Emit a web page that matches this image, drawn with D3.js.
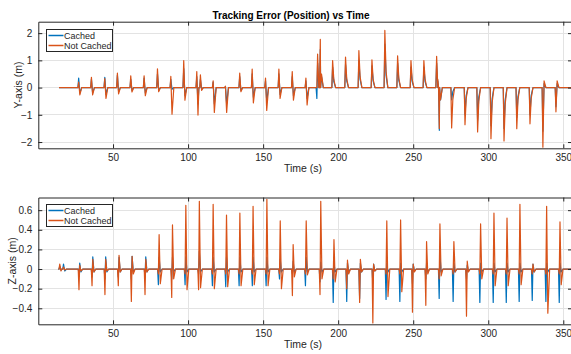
<!DOCTYPE html>
<html><head><meta charset="utf-8">
<script src="https://cdn.jsdelivr.net/npm/d3@7/dist/d3.min.js"></script>
<style>
body{margin:0;background:#fff}
svg{display:block}
text{font-family:"Liberation Sans",Arial,Helvetica,sans-serif}
</style>
</head><body>
<svg id="chart" width="571" height="354"></svg>
<script>
// ---------------- DATA ----------------
const seriesNames = ["Cached", "Not Cached"];
const chartTitle = "Tracking Error (Position) vs Time";
const xLabel = "Time (s)";
const yLabelTop = "Y-axis (m)";
const yLabelBottom = "Z-axis (m)";
const xTicks = [50, 100, 150, 200, 250, 300, 350];
const yTicksTop = [-2, -1, 0, 1, 2];
const yTicksBottom = [-0.4, -0.2, 0, 0.2, 0.4, 0.6];
const timeStart = 14;
const timeEnd = 356;

// Y-axis error: event times (s) and values before / at / after each event (m)
const yEventTime = [27.1,35.6,44.5,52.9,61.8,70.7,79.6,88.5,97.1,105.8,108.2,116.7,124.9,134.4,142.7,151.6,160.5,169.4,178.5,186.3,188.1,196.3,204.9,213.8,222.5,231.1,239.6,248.5,257.1,265.6,267.4,275.6,284.5,292.9,301.8,310.5,319.0,327.8,336.4,345.1];
const yNotCachedPre  = [0,0,0,0,0,0,0,0,0,0,0,0,0,0,0,0,0,0,0,0,0,0,0,0,0,0,0,0,0,0,0,0,0,0,0,0,0,0,0,0];
const yNotCachedPeak = [0.2,0.38,0.33,0.53,0.43,0.43,0.69,0.41,0.99,0.59,0.47,0.25,0.05,0.53,0.68,0.35,0.68,0.59,0.35,1.23,1.77,0.99,1.12,1.36,1.02,2.1,1.17,0.99,0.99,1.15,-1.5,-1.48,-1.36,-1.63,-1.88,-1.96,-1.51,-1.33,-2.19,-0.89];
const yNotCachedPost = [-0.27,-0.27,-0.4,-0.23,-0.16,-0.3,-0.15,-0.98,-0.46,-1.01,-0.1,-0.91,-0.91,-0.15,-0.56,-0.84,-0.4,-0.46,-0.64,0.35,0.5,0.3,0.33,0.4,0.3,0.6,0.35,0.3,0.3,0.3,-0.45,-0.44,-0.4,-0.5,-0.55,-0.6,-0.45,-0.4,0.25,0.25];
const yCachedPre  = [0,0,0,0,0,0,0,0,0,0,0,0,0,0,0,0,0,0,0,-0.4,0,0,0,0,0,0,0,0,0,0,0,0,0,0,0,0,0,0,0,0];
const yCachedPeak = [0.35,0.3,0.38,0.45,0.3,0.35,0.5,0.3,0.7,0.4,0.3,0.2,0.04,0.4,0.5,0.25,0.5,0.4,0.25,0.9,1.4,0.75,0.85,1.0,0.8,1.6,0.9,0.75,0.75,0.9,-1.57,-0.45,-1.0,-1.2,-1.4,-1.5,-1.1,-1.0,-1.6,-0.7];
const yCachedPost = [-0.2,-0.2,-0.25,-0.15,-0.1,-0.2,-0.1,-0.06,-0.3,-0.6,-0.05,-0.6,-0.6,-0.1,-0.35,-0.5,-0.25,-0.3,-0.4,0.25,0.4,0.22,0.25,0.3,0.24,0.45,0.27,0.22,0.22,0.25,-0.45,-0.15,-0.3,-0.35,-0.4,-0.45,-0.33,-0.3,0.15,0.15];

// Z-axis error: event times (s) and values before / at / after each event (m)
const zEventTime = [14.5,17.0,27.8,36.5,45.1,54.0,62.7,71.8,80.7,89.6,98.5,107.5,116.7,125.6,134.5,143.3,152.5,161.4,170.0,178.7,188.4,197.2,206.2,214.8,223.6,232.4,241.6,250.0,258.9,267.8,277.1,286.0,294.9,303.8,312.5,321.1,329.8,338.9,347.8];
const zNotCachedPre  = [0,0,-0.21,-0.17,-0.26,-0.17,-0.33,-0.26,-0.05,-0.29,-0.05,-0.21,-0.05,-0.05,-0.05,-0.05,-0.05,-0.05,-0.27,-0.05,-0.26,-0.1,-0.2,-0.34,-0.55,-0.05,-0.05,-0.44,-0.37,-0.1,-0.05,-0.48,-0.05,-0.05,-0.05,-0.05,-0.05,-0.05,-0.05];
const zNotCachedPeak = [0.05,0.02,0.04,0.1,0.1,0.14,0.13,0.1,0.35,0.45,0.65,0.69,0.66,0.55,0.57,0.64,0.71,0.49,0.25,0.49,0.69,0.3,0.09,0.1,0.05,0.49,0.5,0.05,0.28,0.46,0.28,0.08,0.46,0.57,0.52,0.66,0.05,0.64,0.48];
const zNotCachedPost = [-0.02,-0.01,-0.02,-0.03,-0.02,-0.03,-0.05,-0.03,-0.15,-0.1,-0.21,-0.19,-0.2,-0.18,-0.17,-0.16,-0.17,-0.2,-0.08,-0.06,-0.1,-0.13,-0.05,-0.03,-0.02,-0.28,-0.23,-0.03,-0.05,-0.07,-0.03,-0.03,-0.1,-0.17,-0.17,-0.16,-0.03,-0.45,-0.16];
const zCachedPre  = [0,0,-0.05,-0.08,-0.1,-0.08,-0.1,-0.08,-0.16,-0.1,-0.16,-0.05,-0.17,-0.18,-0.17,-0.17,-0.17,-0.1,-0.05,-0.17,-0.13,-0.34,-0.33,-0.3,-0.15,-0.31,-0.33,-0.15,-0.1,-0.3,-0.33,-0.1,-0.34,-0.34,-0.34,-0.33,-0.32,-0.33,-0.34];
const zCachedPeak = [0.03,0.05,0.06,0.125,0.125,0.12,0.13,0.125,0.12,0.12,0.125,0.18,0.12,0.12,0.12,0.12,0.12,0.1,0.08,0.12,0.07,0.06,0.06,0.06,0.05,0.06,0.06,0.05,0.06,0.15,0.06,0.04,0.06,0.06,0.06,0.06,0.05,0.06,0.06];
const zCachedPost = [-0.01,-0.02,-0.03,-0.03,-0.03,-0.03,-0.03,-0.03,-0.03,-0.03,-0.03,-0.03,-0.03,-0.03,-0.03,-0.03,-0.03,-0.03,-0.03,-0.03,-0.03,-0.03,-0.03,-0.03,-0.02,-0.03,-0.03,-0.02,-0.03,-0.03,-0.03,-0.02,-0.03,-0.03,-0.03,-0.03,-0.03,-0.03,-0.03];

// ---------------- DRAWING ----------------
const colors = {"Cached": "#0072BD", "Not Cached": "#D95319"};
const axisColor = "#262626";
const gridColor = "#e3e3e3";

// Build an ordered polyline from the event table (baseline between events)
function buildSeries(times, pre, peak, post) {
  const pts = [[timeStart, 0]];
  times.forEach((t, i) => {
    pts.push([t - 1.0, 0], [t - 0.5, pre[i]], [t, peak[i]], [t + 0.8, post[i]], [t + 2.0, 0]);
  });
  pts.push([timeEnd, 0]);
  return pts.sort((a, b) => a[0] - b[0]);
}

const svg = d3.select("#chart");
const left = 38.3, right = 572;
const x = d3.scaleLinear().domain([0.2, 355.8]).range([left, right]);

const panels = [
  {top: 21.7, bottom: 148.3, domain: [-2.23, 2.42], ticks: yTicksTop, fmt: d3.format("d"),
   label: yLabelTop, labelX: 18, legendY: 29.5,
   series: {"Cached": buildSeries(yEventTime, yCachedPre, yCachedPeak, yCachedPost),
            "Not Cached": buildSeries(yEventTime, yNotCachedPre, yNotCachedPeak, yNotCachedPost)}},
  {top: 197.5, bottom: 324.3, domain: [-0.563, 0.729], ticks: yTicksBottom, fmt: v => v === 0 ? "0" : d3.format(".1f")(v),
   label: yLabelBottom, labelX: 12, legendY: 204.5,
   series: {"Cached": buildSeries(zEventTime, zCachedPre, zCachedPeak, zCachedPost),
            "Not Cached": buildSeries(zEventTime, zNotCachedPre, zNotCachedPeak, zNotCachedPost)}}
];

panels.forEach((p, pi) => {
  const y = d3.scaleLinear().domain(p.domain).range([p.bottom, p.top]);
  const g = svg.append("g");
  const clipId = "clip" + pi;
  svg.append("clipPath").attr("id", clipId).append("rect")
    .attr("x", left).attr("y", p.top).attr("width", right - left).attr("height", p.bottom - p.top);

  // grid
  g.append("g").selectAll("line").data(xTicks).join("line")
    .attr("x1", d => x(d)).attr("x2", d => x(d)).attr("y1", p.top).attr("y2", p.bottom)
    .attr("stroke", gridColor).attr("stroke-width", 1).attr("shape-rendering", "crispEdges");
  g.append("g").selectAll("line").data(p.ticks).join("line")
    .attr("x1", left).attr("x2", right).attr("y1", d => y(d)).attr("y2", d => y(d))
    .attr("stroke", gridColor).attr("stroke-width", 1).attr("shape-rendering", "crispEdges");

  // lines
  const line = d3.line().x(d => x(d[0])).y(d => y(d[1]));
  seriesNames.forEach(name => {
    g.append("path").datum(p.series[name])
      .attr("clip-path", `url(#${clipId})`)
      .attr("fill", "none").attr("stroke", colors[name]).attr("stroke-width", 1.2)
      .attr("stroke-linejoin", "round").attr("d", line);
  });

  // axes (ticks inward on all four sides)
  const styleAxis = sel => {
    sel.select(".domain").attr("stroke", axisColor).attr("stroke-width", 1);
    sel.selectAll(".tick line").attr("stroke", axisColor);
    sel.selectAll(".tick text").attr("fill", axisColor).attr("font-size", 10)
      .attr("font-family", '"Liberation Sans", Arial, sans-serif');
  };
  g.append("g").attr("transform", `translate(0,${p.bottom})`)
    .call(d3.axisBottom(x).tickValues(xTicks).tickSize(-4).tickPadding(6).tickSizeOuter(0))
    .call(styleAxis);
  g.append("g").attr("transform", `translate(0,${p.top})`)
    .call(d3.axisTop(x).tickValues(xTicks).tickSize(-4).tickFormat("").tickSizeOuter(0))
    .call(styleAxis);
  g.append("g").attr("transform", `translate(${left},0)`)
    .call(d3.axisLeft(y).tickValues(p.ticks).tickFormat(p.fmt).tickSize(-4).tickPadding(6).tickSizeOuter(0))
    .call(styleAxis);
  g.append("g").attr("transform", `translate(${right},0)`)
    .call(d3.axisRight(y).tickValues(p.ticks).tickSize(-4).tickFormat("").tickSizeOuter(0))
    .call(styleAxis);

  // labels
  g.append("text").attr("x", 303).attr("y", p.bottom + 24).attr("text-anchor", "middle")
    .attr("font-size", 10.5).attr("fill", axisColor).text(xLabel);
  g.append("text").attr("transform", `translate(${p.labelX},${(p.top + p.bottom) / 2}) rotate(-90)`)
    .attr("text-anchor", "middle").attr("dominant-baseline", "central")
    .attr("font-size", 10.5).attr("fill", axisColor).text(p.label);

  // legend
  const lg = g.append("g").attr("transform", `translate(46.5,${p.legendY})`);
  lg.append("rect").attr("width", 66).attr("height", 22).attr("fill", "#fff")
    .attr("stroke", axisColor).attr("stroke-width", 1);
  seriesNames.forEach((name, i) => {
    const yy = 6 + i * 10;
    lg.append("line").attr("x1", 2).attr("x2", 17).attr("y1", yy).attr("y2", yy)
      .attr("stroke", colors[name]).attr("stroke-width", 1.5);
    lg.append("text").attr("x", 17.5).attr("y", yy).attr("dominant-baseline", "central")
      .attr("font-size", 9).attr("fill", axisColor).text(name);
  });
});

svg.append("text").attr("x", 291).attr("y", 15).attr("text-anchor", "middle")
  .attr("dominant-baseline", "central").attr("font-size", 10).attr("font-weight", "bold")
  .attr("fill", "#000").text(chartTitle);
</script>
</body></html>
